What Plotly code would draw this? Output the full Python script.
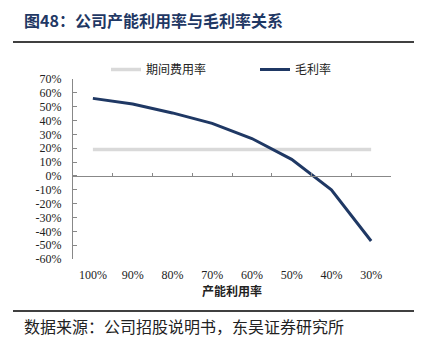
import plotly.graph_objects as go

categories = ["100%", "90%", "80%", "70%", "60%", "50%", "40%", "30%"]
expense_rate = [19, 19, 19, 19, 19, 19, 19, 19]
gross_margin = [56, 52, 45.5, 38, 27, 12, -10, -47]
y_ticks = list(range(-60, 71, 10))
y_labels = [f"{v}%" for v in y_ticks]

W, H = 429, 342
L, R, T, B = 73, 38, 79, 83
pw, ph = W - L - R, H - T - B
def px(x): return (x - L) / pw
def py(y): return (H - B - y) / ph

CJK = "Noto Sans CJK SC"
SERIF = "Liberation Serif, Times New Roman, serif"
NAVY = "#1f3864"

fig = go.Figure()
fig.add_trace(go.Scatter(x=categories, y=expense_rate, mode="lines", name="期间费用率",
                         line=dict(color="#d9d9d9", width=3.5)))
fig.add_trace(go.Scatter(x=categories, y=gross_margin, mode="lines", name="毛利率",
                         line=dict(color=NAVY, width=3)))
# invisible trace for the zero-crossing category axis
fig.add_trace(go.Scatter(x=categories, y=gross_margin, xaxis="x2", mode="lines",
                         line=dict(width=0), opacity=0, showlegend=False, hoverinfo="skip"))

ymin, ymax = -60, 70
xr = [-0.5, len(categories) - 0.5]
fig.update_layout(
    width=W, height=H, margin=dict(l=L, r=R, t=T, b=B),
    paper_bgcolor="white", plot_bgcolor="white",
    showlegend=True,
    legend=dict(orientation="h", x=px(106), y=py(55), xanchor="left", yanchor="top",
                font=dict(family=CJK, size=12, color="#222"), entrywidth=104, entrywidthmode="pixels",
                bgcolor="rgba(0,0,0,0)", tracegroupgap=0),
    xaxis=dict(type="category", categoryorder="array", categoryarray=categories, range=xr,
               showline=False, showgrid=False, ticks="", zeroline=False,
               tickfont=dict(family=SERIF, size=12, color="#222"), ticklabelstandoff=7,
               title=dict(text="<b>产能利用率</b>", font=dict(family=CJK, size=12, color="#222"), standoff=4)),
    xaxis2=dict(type="category", categoryorder="array", categoryarray=categories, range=xr,
                overlaying="x", anchor="free", position=(0 - ymin) / (ymax - ymin),
                showline=True, linecolor="#888", linewidth=1, ticks="inside", ticklen=3,
                tickcolor="#888", tickson="boundaries", showticklabels=False, showgrid=False),
    yaxis=dict(range=[ymin, ymax], tickvals=y_ticks, ticktext=y_labels, showgrid=False,
               zeroline=False, showline=True, linecolor="#888", linewidth=1,
               ticks="inside", ticklen=4, tickcolor="#888", ticklabelstandoff=8,
               tickfont=dict(family=SERIF, size=12, color="#222")),
)

fig.add_annotation(text="<b>图48：公司产能利用率与毛利率关系</b>", xref="paper", yref="paper",
                   x=px(22), y=py(20), xanchor="left", yanchor="middle", showarrow=False,
                   font=dict(family=CJK, size=16, color=NAVY))
fig.add_annotation(text="数据来源：公司招股说明书，东吴证券研究所", xref="paper", yref="paper",
                   x=px(22), y=py(326), xanchor="left", yanchor="middle", showarrow=False,
                   font=dict(family=CJK, size=16, color="#222"))
fig.add_shape(type="line", xref="paper", yref="paper", x0=px(13), x1=px(414), y0=py(42), y1=py(42),
              line=dict(color="black", width=1.5))
fig.add_shape(type="line", xref="paper", yref="paper", x0=px(13), x1=px(414), y0=py(311), y1=py(311),
              line=dict(color="black", width=1.5))

fig.write_html("out.html")
